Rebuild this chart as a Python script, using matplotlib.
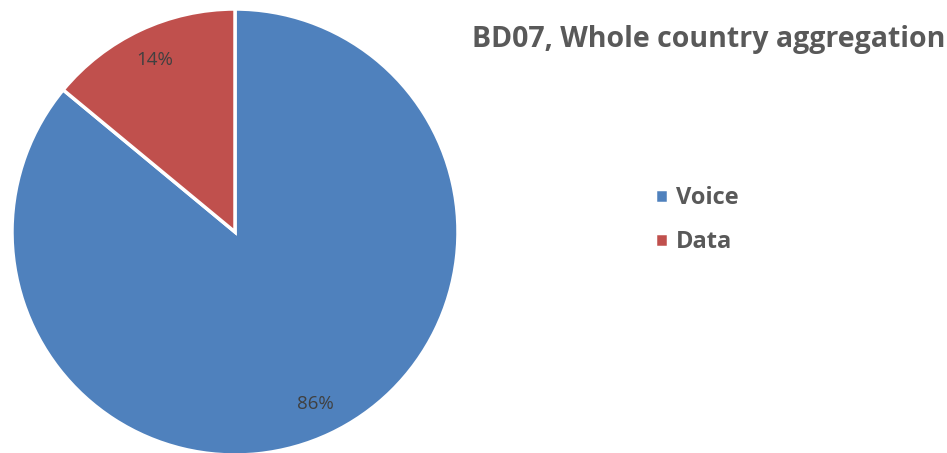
import matplotlib.pyplot as plt

labels = ['Voice', 'Data']
values = [86, 14]
colors = ['#4F81BD', '#C0504D']
title = 'BD07, Whole country aggregation'

plt.rcParams['font.family'] = ['Open Sans', 'DejaVu Sans']

fig = plt.figure(figsize=(9.47, 4.53), dpi=100)
W, H = 947, 453
cx, cy, r = 235, 453 - 232, 223
ax = fig.add_axes([(cx - r) / W, (cy - r) / H, 2 * r / W, 2 * r / H])

wedges, texts, autotexts = ax.pie(values, colors=colors, startangle=90, counterclock=False,
                                  autopct='%1.0f%%', pctdistance=0.85, radius=1,
                                  wedgeprops={'linewidth': 2.5, 'edgecolor': 'white'},
                                  textprops={'fontsize': 13.5, 'color': '#404040'})
ax.set_xlim(-1, 1)
ax.set_ylim(-1, 1)
ax.set_aspect('equal')
for w in wedges:
    w.set_clip_on(False)

fig.text(709 / W, 1 - 40 / H, title, ha='center', va='center',
         fontsize=20.5, fontweight='bold', color='#595959')

leg = fig.legend(wedges, labels, loc='center left', bbox_to_anchor=(655 / W, 1 - 220 / H),
                 frameon=False, fontsize=17, handlelength=0.55, handleheight=0.55,
                 handletextpad=0.35, labelspacing=0.85, borderpad=0, borderaxespad=0)
for t in leg.get_texts():
    t.set_fontweight('bold')
    t.set_color('#595959')

fig.savefig('out.png', dpi=100)
